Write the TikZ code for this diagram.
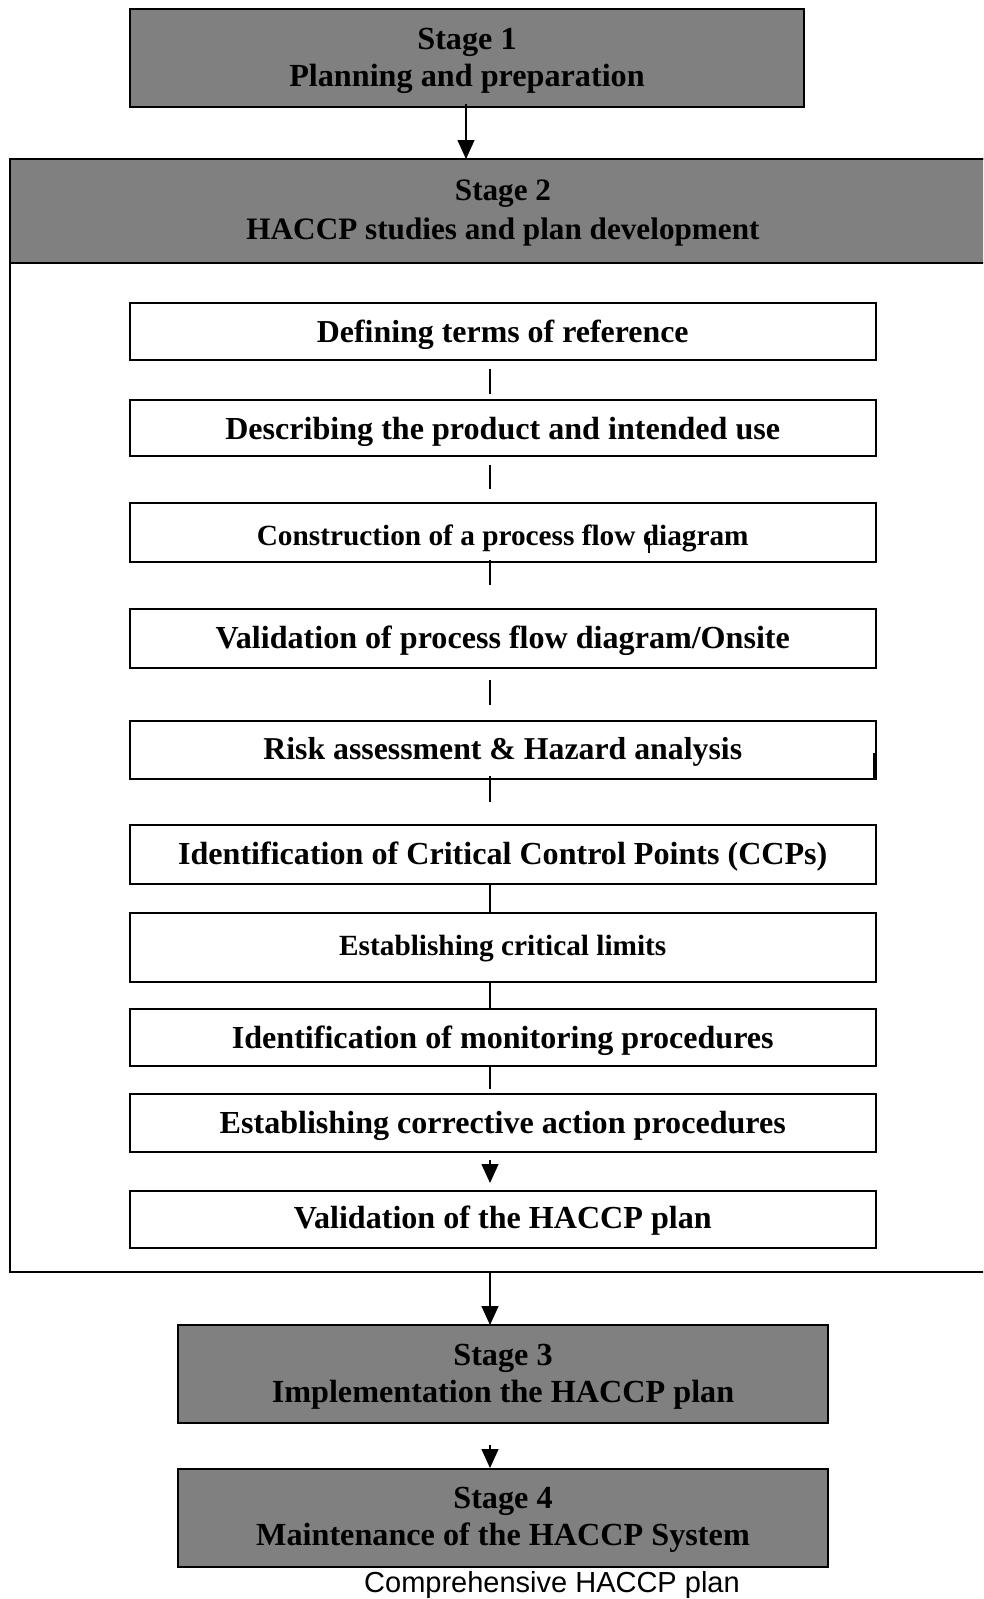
\documentclass[tikz,border=0pt]{standalone}
\usepackage{fontspec}
\setmainfont{Liberation Serif}
\newfontfamily\capfont{Liberation Sans}
\usetikzlibrary{arrows.meta}
\definecolor{stagegray}{RGB}{128,128,128}
\newcommand{\tx}[2]{\raisebox{-#1pt}[\height][\depth]{\begin{tabular}{@{}c@{}}#2\end{tabular}}}
\tikzset{
  fs/.style={font=\bfseries\fontsize{#1}{37}\selectfont},
  stagebox/.style={draw=black, line width=2pt, fill=stagegray, inner sep=0pt, outer sep=0pt,
    align=center, fs=32.2},
  stepbox/.style={draw=black, line width=2pt, fill=white, inner sep=0pt, outer sep=0pt,
    minimum width=746.5pt, align=center, fs=32.1},
  container/.style={draw=black, line width=2pt, inner sep=0pt, outer sep=0pt},
  tick/.style={draw=black, line width=1.3pt},
  arr/.style={draw=black, line width=1.3pt, -{Triangle[length=19pt,width=17pt]}}
}
\begin{document}
\begin{tikzpicture}[x=1pt,y=-1pt]
\useasboundingbox (0,0) rectangle (983,1599);
\clip (0,0) rectangle (983,1599);
\fill[white] (0,0) rectangle (983,1599);

\coordinate (cx) at (490,0);
\coordinate (cxa) at (466,0);

% Stage 1
\node[stagebox, minimum width=674pt, minimum height=98pt] (s1) at (467,58)
  {\tx{2.5}{Stage 1\\Planning and preparation}};

% Stage 2 container and header
\node[container, minimum width=990.5pt, minimum height=1113pt] (s2box) at (504.75,715.5) {};
\node[stagebox, minimum width=990.5pt, minimum height=104pt,
  font=\bfseries\fontsize{31.2}{39}\selectfont] (s2) at (504.75,211)
  {\tx{1.5}{\hspace*{-3.5pt}Stage 2\\\hspace*{-3.5pt}HACCP studies and plan development}};

% Steps
\node[stepbox, fs=31.9, minimum height=57pt] (b1) at (502.75,331.5) {\tx{4}{Defining terms of reference}};
\node[stepbox, minimum height=56pt] (b2) at (502.75,428) {\tx{4}{Describing the product and intended use}};
\node[stepbox, fs=29.3, minimum height=59pt] (b3) at (502.75,532.5) {\tx{5.5}{Construction of a process flow diagram}};
\node[stepbox, minimum height=59pt] (b4) at (502.75,638.5) {\tx{3}{Validation of process flow diagram/Onsite}};
\node[stepbox, fs=31.8, minimum height=58pt] (b5) at (502.75,750) {\tx{2}{Risk assessment \& Hazard analysis}};
\node[stepbox, minimum height=59pt] (b6) at (502.75,854.5) {\tx{3}{Identification of Critical Control Points (CCPs)}};
\node[stepbox, fs=29.3, minimum height=69pt] (b7) at (502.75,947.5) {\tx{1}{Establishing critical limits}};
\node[stepbox, minimum height=57pt] (b8) at (502.75,1037) {\tx{4}{Identification of monitoring procedures}};
\node[stepbox, minimum height=58pt] (b9) at (502.75,1123) {\tx{3}{Establishing corrective action procedures}};
\node[stepbox, minimum height=57pt] (b10) at (502.75,1219.5) {\tx{2}{Validation of the HACCP plan}};

% Stage 3 and 4
\node[stagebox, minimum width=650pt, minimum height=98pt] (s3) at (503,1374)
  {\tx{3}{Stage 3\\Implementation the HACCP plan}};
\node[stagebox, minimum width=650pt, minimum height=98pt] (s4) at (503,1518)
  {\tx{2}{Stage 4\\Maintenance of the HACCP System}};

% Caption
\node[anchor=base, inner sep=0pt, font=\capfont\fontsize{29}{34}\selectfont] (cap) at (552,1592)
  {Comprehensive HACCP plan};

% Connectors
\draw[arr, shorten <=-3pt] (s1.south -| cxa) -- (s2box.north -| cxa);
\draw[tick, shorten <=9pt, shorten >=6pt] (b1.south -| cx) -- (b2.north -| cx);
\draw[tick, shorten <=9pt, shorten >=14pt] (b2.south -| cx) -- (b3.north -| cx);
\draw[tick, shorten <=-2pt, shorten >=24pt] (b3.south -| cx) -- (b4.north -| cx);
\draw[tick] ([xshift=519.5pt,yshift=24pt]b3.south west) -- ([xshift=519.5pt,yshift=9pt]b3.south west);
\draw[tick, shorten <=12pt, shorten >=16pt] (b4.south -| cx) -- (b5.north -| cx);
\draw[draw=black, line width=2pt] ([xshift=-2.5pt]b5.south east) -- ([xshift=-2.5pt,yshift=26pt]b5.south east);
\draw[tick, shorten <=-3pt, shorten >=23pt] (b5.south -| cx) -- (b6.north -| cx);
\draw[tick] (b6.south -| cx) -- (b7.north -| cx);
\draw[tick] (b7.south -| cx) -- (b8.north -| cx);
\draw[tick, shorten >=5pt] (b8.south -| cx) -- (b9.north -| cx);
\draw[arr, shorten <=8pt, shorten >=8pt] (b9.south -| cx) -- (b10.north -| cx);
\draw[arr] (s2box.south -| cx) -- (s3.north -| cx);
\draw[arr, shorten <=22pt, shorten >=1pt] (s3.south -| cx) -- (s4.north -| cx);
\end{tikzpicture}
\end{document}
